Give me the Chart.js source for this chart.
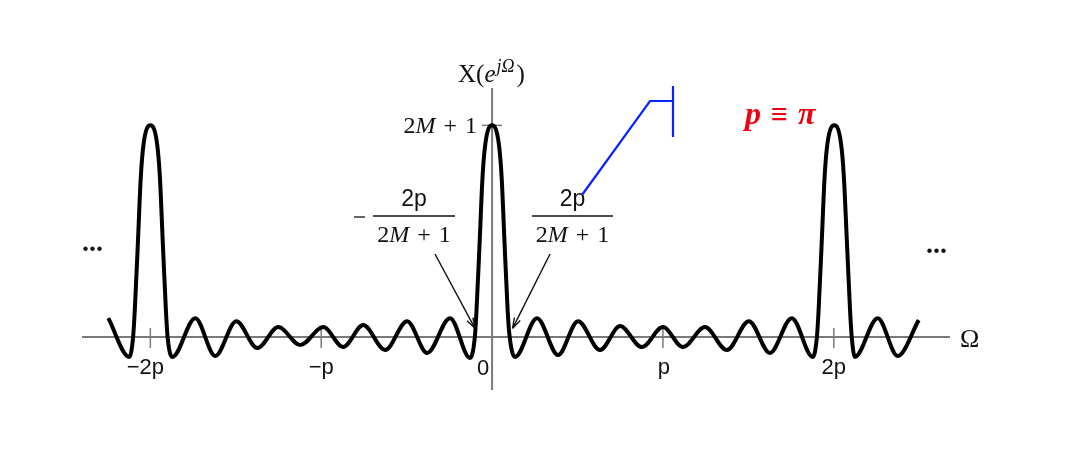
<!DOCTYPE html>
<html>
<head>
<meta charset="utf-8">
<script src="https://cdn.jsdelivr.net/npm/chart.js@4.4.1/dist/chart.umd.min.js"></script>
<style>
  html, body { margin: 0; padding: 0; background: #fff; }
  #wrap { width: 1071px; height: 464px; }
</style>
</head>
<body>
<div id="wrap"><canvas id="chart" width="1071" height="464"></canvas></div>
<script>
// ========== DATA ==========
// omega is in units of pi (extrema, crossings, peak flanks)
const omega = [
  -2.246, -2.123, -2.101, -2.091, -2.073, -2.056, -2.039, -2.0,
  -1.961, -1.944, -1.927, -1.909, -1.899, -1.871,
  -1.737, -1.620, -1.497, -1.374, -1.251, -1.123, -0.988, -0.871,
  -0.754, -0.626, -0.497, -0.380, -0.246, -0.129,
  -0.101, -0.091, -0.073, -0.056, -0.039, 0.0,
  0.039, 0.056, 0.073, 0.091, 0.103, 0.135,
  0.263, 0.386, 0.503, 0.632, 0.749, 0.877, 1.0, 1.117,
  1.246, 1.374, 1.503, 1.626, 1.754, 1.877,
  1.901, 1.911, 1.929, 1.946, 1.963, 2.003,
  2.042, 2.059, 2.077, 2.095, 2.105, 2.123,
  2.257, 2.374, 2.497
];
const magnitude = [
  1.52, -1.60, 0, 2.17, 7.54, 12.83, 15.56, 17,
  15.56, 12.83, 7.54, 2.17, 0, -1.60,
  1.52, -1.52, 1.28, -0.88, 0.80, -0.64, 0.80, -0.80,
  0.96, -1.04, 1.28, -1.28, 1.52, -1.68,
  0, 2.17, 7.54, 12.83, 15.56, 17,
  15.56, 12.83, 7.54, 2.17, 0, -1.60,
  1.52, -1.44, 1.28, -1.04, 0.88, -0.80, 0.80, -0.80,
  0.80, -1.04, 1.28, -1.28, 1.52, -1.60,
  0, 2.17, 7.54, 12.83, 15.56, 17,
  15.56, 12.83, 7.54, 2.17, 0, -1.60,
  1.52, -1.52, 1.36
];
const tickValues = [-2, -1, 1, 2];
const tickLabels = ["\u22122p", "\u2212p", "p", "2p"];
const tickShift = [-5, 0, 1, 0];
const peakValue = 17; // 2M + 1

// ========== STYLE ==========
const AXIS_COLOR = "#7a7a7a";
const SANS = "'Liberation Sans', Arial, sans-serif";
const SERIF = "'Liberation Serif', 'Times New Roman', serif";

const points = omega.map((x, i) => ({ x: x, y: magnitude[i] }));

// ========== TEXT HELPERS ==========
// draws runs of text side by side, each run may have its own font
const drawRuns = (ctx, runs, x, y, align) => {
  let total = 0;
  runs.forEach((r) => {
    ctx.font = r.font;
    r.w = ctx.measureText(r.t).width + (r.gap || 0);
    total += r.w;
  });
  let cx = x;
  if (align === "center") cx = x - total / 2;
  if (align === "right") cx = x - total;
  ctx.textAlign = "left";
  runs.forEach((r) => {
    ctx.font = r.font;
    ctx.fillText(r.t, cx, y + (r.dy || 0));
    cx += r.w;
  });
};

const arrow = (ctx, x1, y1, x2, y2) => {
  ctx.beginPath();
  ctx.moveTo(x1, y1);
  ctx.lineTo(x2, y2);
  ctx.stroke();
  const a = Math.atan2(y2 - y1, x2 - x1);
  const len = 11;
  ctx.beginPath();
  ctx.moveTo(x2, y2);
  ctx.lineTo(x2 - len * Math.cos(a - 0.3), y2 - len * Math.sin(a - 0.3));
  ctx.moveTo(x2, y2);
  ctx.lineTo(x2 - len * Math.cos(a + 0.3), y2 - len * Math.sin(a + 0.3));
  ctx.stroke();
};

const twoM = (size) => [
  { t: "2", font: `${size}px ${SERIF}` },
  { t: "M", font: `italic ${size}px ${SERIF}`, gap: 8 },
  { t: "+", font: `${size}px ${SERIF}`, gap: 8 },
  { t: "1", font: `${size}px ${SERIF}` },
];

// ========== AXES + ANNOTATIONS ==========
const axesPlugin = {
  id: "axesPlugin",
  beforeDatasetsDraw(chart) {
    const { ctx, scales } = chart;
    const xs = scales.x, ys = scales.y;
    const y0 = ys.getPixelForValue(0);
    const x0 = xs.getPixelForValue(0);
    ctx.save();
    ctx.strokeStyle = AXIS_COLOR;
    ctx.lineWidth = 2;
    ctx.beginPath();
    ctx.moveTo(xs.left, y0);
    ctx.lineTo(xs.right, y0);
    ctx.moveTo(x0, ys.top);
    ctx.lineTo(x0, ys.bottom);
    ctx.stroke();
    ctx.lineWidth = 1.5;
    tickValues.forEach((v) => {
      const px = xs.getPixelForValue(v);
      ctx.beginPath();
      ctx.moveTo(px, y0 - 9);
      ctx.lineTo(px, y0 + 11);
      ctx.stroke();
    });
    const yp = ys.getPixelForValue(peakValue);
    ctx.beginPath();
    ctx.moveTo(x0 - 10, yp);
    ctx.lineTo(x0 + 10, yp);
    ctx.stroke();
    ctx.restore();
  },
  afterDatasetsDraw(chart) {
    const { ctx, scales } = chart;
    const xs = scales.x, ys = scales.y;
    const x0 = xs.getPixelForValue(0);
    const yp = ys.getPixelForValue(peakValue);
    ctx.save();
    ctx.fillStyle = "#111";
    ctx.textBaseline = "alphabetic";

    // tick labels
    ctx.font = `22px ${SANS}`;
    ctx.textAlign = "center";
    tickValues.forEach((v, i) => {
      ctx.fillText(tickLabels[i], xs.getPixelForValue(v) + tickShift[i], 374);
    });
    ctx.fillText("0", x0 - 9, 375);

    // axis names
    ctx.font = `26px ${SERIF}`;
    ctx.textAlign = "left";
    ctx.fillText("\u03A9", 960, 347);
    drawRuns(ctx, [
      { t: "X(", font: `25px ${SERIF}` },
      { t: "e", font: `italic 25px ${SERIF}`, gap: 1 },
      { t: "j\u03A9", font: `italic 18px ${SERIF}`, dy: -10, gap: 2 },
      { t: ")", font: `25px ${SERIF}` },
    ], 458, 82, "left");

    // peak label
    drawRuns(ctx, twoM(24), x0 - 15, yp + 8, "right");

    // fractions
    ctx.strokeStyle = "#111";
    ctx.lineWidth = 1.3;
    [[373, 455], [532, 613]].forEach(([a, b]) => {
      ctx.beginPath();
      ctx.moveTo(a, 216);
      ctx.lineTo(b, 216);
      ctx.stroke();
      ctx.font = `23px ${SANS}`;
      ctx.textAlign = "center";
      ctx.fillText("2p", (a + b) / 2, 206);
      drawRuns(ctx, twoM(24), (a + b) / 2, 242, "center");
    });
    ctx.beginPath();
    ctx.moveTo(354, 217);
    ctx.lineTo(365, 217);
    ctx.stroke();

    // arrows to the first zero crossings
    ctx.lineWidth = 1.4;
    arrow(ctx, 435, 254, xs.getPixelForValue(-0.1), ys.getPixelForValue(0.7));
    arrow(ctx, 550, 254, xs.getPixelForValue(0.12), ys.getPixelForValue(0.7));

    // continuation dots
    ctx.font = `bold 28px ${SERIF}`;
    ctx.textAlign = "left";
    ctx.fillText("...", 82, 251);
    ctx.fillText("...", 926, 253);

    // blue callout
    ctx.strokeStyle = "#0a22ff";
    ctx.lineWidth = 2.2;
    ctx.beginPath();
    ctx.moveTo(582, 195);
    ctx.lineTo(650, 101);
    ctx.lineTo(673, 101);
    ctx.moveTo(673, 86);
    ctx.lineTo(673, 137);
    ctx.stroke();

    // red note
    ctx.fillStyle = "#ee0010";
    drawRuns(ctx, [
      { t: "p", font: `bold italic 32px ${SERIF}`, gap: 10 },
      { t: "\u2261", font: `bold 30px ${SERIF}`, gap: 10 },
      { t: "\u03C0", font: `bold italic 32px ${SERIF}` },
    ], 745, 124, "left");
    ctx.restore();
  },
};

// ========== CHART ==========
new Chart(document.getElementById("chart"), {
  type: "line",
  data: {
    datasets: [
      {
        data: points,
        borderColor: "#000",
        borderWidth: 4,
        pointRadius: 0,
        cubicInterpolationMode: "monotone",
        fill: false,
        clip: false,
      },
    ],
  },
  options: {
    responsive: false,
    animation: false,
    devicePixelRatio: 1,
    layout: { padding: { left: 82, right: 121, top: 88, bottom: 74 } },
    scales: {
      x: { type: "linear", min: -2.4, max: 2.68, display: false },
      y: { type: "linear", min: -4.25, max: 20, display: false },
    },
    plugins: { legend: { display: false }, tooltip: { enabled: false } },
  },
  plugins: [axesPlugin],
});
</script>
</body>
</html>
